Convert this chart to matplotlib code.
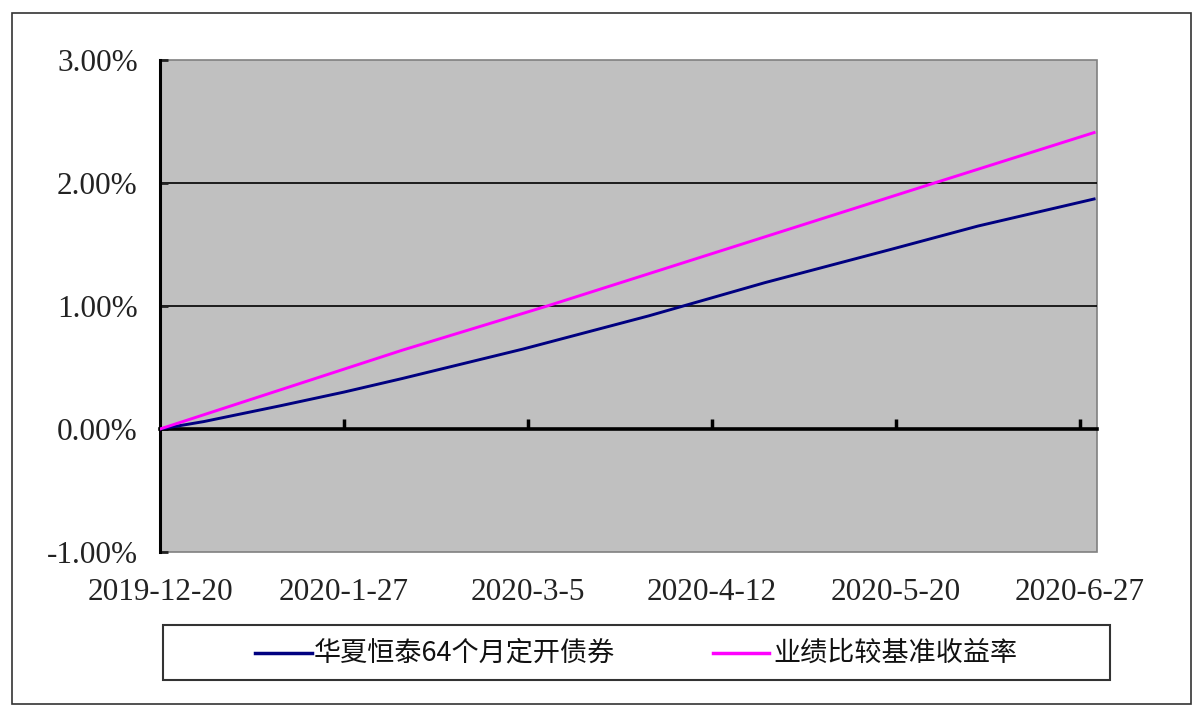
import matplotlib
matplotlib.use('Agg')
import matplotlib.pyplot as plt
from matplotlib.patches import Rectangle
from matplotlib.lines import Line2D
import pandas as pd

# readings (percent)
start = '2019-12-20'
fund_dates = ['2019-12-20', '2019-12-29', '2020-01-14', '2020-01-27', '2020-02-08',
              '2020-03-04', '2020-03-30', '2020-04-23', '2020-05-19', '2020-06-06',
              '2020-06-30']
fund_vals = [0.00, 0.06, 0.19, 0.30, 0.41, 0.65, 0.92, 1.19, 1.46, 1.65, 1.87]

bench_dates = ['2019-12-20', '2020-01-14', '2020-02-08', '2020-03-09', '2020-05-28',
               '2020-06-30']
bench_vals = [0.00, 0.32, 0.64, 1.00, 2.00, 2.41]

tick_labels = ['2019-12-20', '2020-1-27', '2020-3-5', '2020-4-12', '2020-5-20', '2020-6-27']
y_ticks = [-1, 0, 1, 2, 3]

fund_name = '华夏恒泰64个月定开债券'
bench_name = '业绩比较基准收益率'

t0 = pd.Timestamp(start)
fx = [(pd.Timestamp(d) - t0).days for d in fund_dates]
bx = [(pd.Timestamp(d) - t0).days for d in bench_dates]
tx = [(pd.Timestamp(d) - t0).days for d in pd.to_datetime(tick_labels)]

W, H = 1204, 707
fig = plt.figure(figsize=(W / 100, H / 100), dpi=100)
fig.patch.set_facecolor('white')

# outer frame
fig.add_artist(Rectangle((12 / W, 1 - 704 / H), (1191 - 12) / W, (704 - 13) / H,
                         transform=fig.transFigure, fill=False, ec='#333333', lw=1.2))

ax = fig.add_axes([160 / W, 1 - 552 / H, (1097 - 160) / W, (552 - 60) / H])
ax.patch.set_facecolor('#C0C0C0')
ax.patch.set_edgecolor('#808080')
ax.patch.set_linewidth(1.2)

ax.plot(fx, fund_vals, color='#000080', lw=2.1, zorder=4)
ax.plot(bx, bench_vals, color='#FF00FF', lw=2.1, zorder=4)

ax.set_xlim(0, 193.6)
ax.set_ylim(-1, 3)

for s in ['top', 'right']:
    ax.spines[s].set_visible(False)
ax.spines['left'].set_color('black')
ax.spines['left'].set_linewidth(2.2)
ax.spines['bottom'].set_position(('data', 0))
ax.spines['bottom'].set_color('black')
ax.spines['bottom'].set_linewidth(2.6)
ax.spines['bottom'].set_zorder(3)

ax.set_yticks(y_ticks)
ax.set_yticklabels(['%.2f%%' % v for v in y_ticks])
ax.tick_params(axis='y', direction='in', length=6, width=2, pad=16,
               labelsize=22.5, colors='#222222')
for lab in ax.get_yticklabels():
    lab.set_fontfamily('Liberation Serif')
ax.yaxis.grid(True, color='black', lw=1.2)
for v, gl in zip(y_ticks, ax.yaxis.get_gridlines()):
    if v in (-1, 0, 3):
        gl.set_visible(False)
ax.set_axisbelow(True)

ax.set_xticks(tx[1:])
ax.tick_params(axis='x', direction='in', length=7, width=2.5, labelbottom=False)

sec = ax.secondary_xaxis(0)
sec.set_xticks(tx)
sec.set_xticklabels(tick_labels)
sec.tick_params(axis='x', length=0, pad=19, labelsize=22.5, colors='#222222')
sec.spines['bottom'].set_visible(False)
for lab in sec.get_xticklabels():
    lab.set_fontfamily('Liberation Serif')

# legend box drawn below the plot
fig.add_artist(Rectangle((163 / W, 1 - 680 / H), (1110 - 163) / W, (680 - 625) / H,
                         transform=fig.transFigure, fill=False, ec='#333333', lw=1.5))
ly = 1 - 653 / H
fig.add_artist(Line2D([255 / W, 312 / W], [ly, ly], transform=fig.transFigure,
                      color='#000080', lw=2.5))
fig.add_artist(Line2D([713 / W, 769 / W], [ly, ly], transform=fig.transFigure,
                      color='#FF00FF', lw=2.5))
cjk = ['Noto Sans CJK SC', 'DejaVu Sans']
fig.text(314 / W, ly, fund_name, ha='left', va='center', fontsize=19.5, family=cjk,
         color='#111111')
fig.text(773 / W, ly, bench_name, ha='left', va='center', fontsize=19.5, family=cjk,
         color='#111111')

fig.savefig('out.png', dpi=100)
